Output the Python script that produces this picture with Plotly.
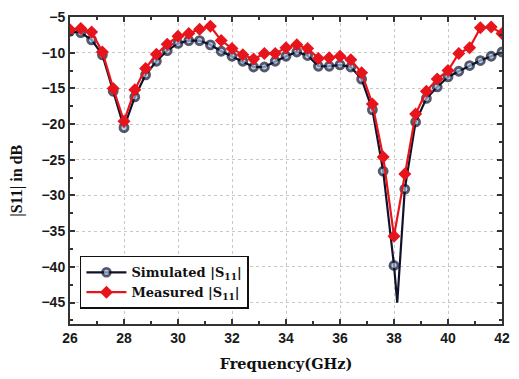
import plotly.graph_objects as go

freq_sim = [26.0, 26.4, 26.8, 27.2, 27.6, 28.0, 28.4, 28.8, 29.2, 29.6, 30.0, 30.4, 30.8,
            31.2, 31.6, 32.0, 32.4, 32.8, 33.2, 33.6, 34.0, 34.4, 34.8, 35.2, 35.6, 36.0,
            36.4, 36.8, 37.2, 37.6, 38.0, 38.12, 38.4, 38.8, 39.2, 39.6, 40.0, 40.4, 40.8,
            41.2, 41.6, 42.0]
s11_sim = [-7.0, -7.2, -8.2, -10.3, -15.4, -20.5, -16.2, -13.1, -11.2, -9.7, -8.7, -8.3, -8.3,
           -8.9, -9.8, -10.5, -11.2, -12.0, -12.0, -11.2, -10.5, -9.9, -10.4, -11.9, -11.9, -11.7,
           -12.0, -13.7, -18.0, -26.6, -39.8, -45.0, -29.1, -19.7, -16.4, -14.8, -13.4, -12.6, -11.8,
           -11.1, -10.5, -9.9]

freq_meas = [26.0, 26.4, 26.8, 27.2, 27.6, 28.0, 28.4, 28.8, 29.2, 29.6, 30.0, 30.4, 30.8,
             31.2, 31.6, 32.0, 32.4, 32.8, 33.2, 33.6, 34.0, 34.4, 34.8, 35.2, 35.6, 36.0,
             36.4, 36.8, 37.2, 37.6, 38.0, 38.4, 38.8, 39.2, 39.6, 40.0, 40.4, 40.8,
             41.2, 41.6, 42.0]
s11_meas = [-6.8, -6.6, -7.1, -9.9, -15.0, -19.6, -15.2, -12.2, -10.2, -8.8, -7.7, -7.3, -6.7,
            -6.3, -8.3, -9.4, -10.3, -10.9, -10.1, -10.1, -9.3, -8.9, -9.4, -10.8, -10.7, -10.5,
            -11.0, -12.8, -17.2, -24.6, -35.7, -27.0, -18.6, -15.4, -13.7, -12.5, -10.1, -9.3,
            -6.5, -6.4, -7.3]

x_ticks = [26, 28, 30, 32, 34, 36, 38, 40, 42]
y_ticks = [-5, -10, -15, -20, -25, -30, -35, -40, -45]

# markers only on the 0.4 GHz grid
sim_sizes = [8 if abs((f - 26) / 0.4 - round((f - 26) / 0.4)) < 1e-6 else 0 for f in freq_sim]

fig = go.Figure()
fig.add_trace(go.Scatter(
    x=freq_sim, y=s11_sim, mode="lines+markers",
    name="Simulated |S<sub>11</sub>|",
    line=dict(color="#10122a", width=2.2),
    marker=dict(symbol="circle", size=sim_sizes, color="#9ec3ea",
                line=dict(color="#10122a", width=2.8)),
))
fig.add_trace(go.Scatter(
    x=freq_meas, y=s11_meas, mode="lines+markers",
    name="Measured |S<sub>11</sub>|",
    line=dict(color="#e8141c", width=2.2),
    marker=dict(symbol="diamond", size=10, color="#e8141c",
                line=dict(color="#e8141c", width=0)),
))

axis_common = dict(
    showline=True, linecolor="#333333", linewidth=2, mirror="ticks",
    ticks="inside", ticklen=5, tickwidth=1.5, tickcolor="#333333",
    showgrid=True, gridcolor="#c8c8c8", griddash="dot", gridwidth=1,
    zeroline=False,
    tickfont=dict(family="Liberation Sans, Arial", size=14, color="#1a1a1a", weight="bold"),
)

fig.update_xaxes(
    range=[26, 42], tickvals=x_ticks,
    minor=dict(dtick=1, ticks="inside", ticklen=3, tickcolor="#333333", showgrid=False),
    title=dict(text="<b>Frequency(GHz)</b>",
               font=dict(family="DejaVu Serif", size=14.5, color="#111111"),
               standoff=14),
    **axis_common,
)
fig.update_yaxes(
    range=[-48, -5], tickvals=y_ticks, ticktext=["\u22125", "\u221210", "\u221215", "\u221220",
                                                 "\u221225", "\u221230", "\u221235", "\u221240", "\u221245"],
    minor=dict(dtick=2.5, ticks="inside", ticklen=3, tickcolor="#333333", showgrid=False),
    **axis_common,
)

fig.update_layout(
    width=519, height=379,
    margin=dict(l=70, r=9, t=15, b=53),
    paper_bgcolor="white", plot_bgcolor="white",
    legend=dict(
        x=0.023, y=0.222, xanchor="left", yanchor="top",
        bordercolor="#111111", borderwidth=1.5, bgcolor="white",
        font=dict(family="DejaVu Serif", size=13, color="#111111", weight="bold"),
        itemwidth=40, tracegroupgap=2,
    ),
    showlegend=True,
    annotations=[dict(
        text="<b>|S11| in dB</b>", textangle=-90,
        xref="paper", yref="paper", x=-0.123, y=0.466,
        xanchor="center", yanchor="middle", showarrow=False,
        font=dict(family="Liberation Serif, Times New Roman", size=16, color="#111111"),
    )],
)

fig.write_html("out.html")
